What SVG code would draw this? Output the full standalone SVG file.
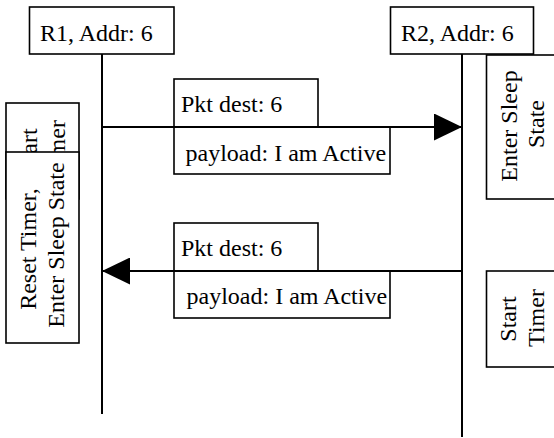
<svg xmlns="http://www.w3.org/2000/svg" width="554" height="438" viewBox="0 0 554 438">
<style>
.box{fill:#fff;stroke:#000;stroke-width:1.6}
.life{stroke:#000;stroke-width:2;fill:none}
.msg{stroke:#000;stroke-width:2;fill:none}
text{font-family:"Liberation Serif","Times New Roman",serif;font-size:24px;fill:#000}
.mid{text-anchor:middle}
</style>
<defs>
<marker id="arrow" viewBox="0 0 28 27" refX="28" refY="13.5" markerWidth="28" markerHeight="27" markerUnits="userSpaceOnUse" orient="auto">
<path d="M0,0 L28,13.5 L0,27 Z" fill="#000"/>
</marker>
</defs>
<rect width="554" height="438" fill="#fff"/>
<g id="lifelines">
<line class="life" x1="102" y1="54" x2="102" y2="414"/>
<line class="life" x1="462" y1="54" x2="462" y2="437"/>
</g>
<g id="r1">
<rect class="box" x="29.5" y="7" width="144.5" height="47"/>
<text x="40" y="40.7">R1, Addr: 6</text>
</g>
<g id="r2">
<rect class="box" x="390.5" y="7" width="143" height="47"/>
<text x="401" y="40.7">R2, Addr: 6</text>
</g>
<g id="enter-sleep-r2">
<rect class="box" x="486.5" y="55" width="73" height="144"/>
<text class="mid" transform="translate(517,126) rotate(-90)">Enter Sleep</text>
<text class="mid" transform="translate(544,124) rotate(-90)">State</text>
</g>
<g id="start-timer-r2">
<rect class="box" x="486.5" y="271" width="73" height="96"/>
<text class="mid" transform="translate(516,319) rotate(-90)">Start</text>
<text class="mid" transform="translate(544,318) rotate(-90)">Timer</text>
</g>
<g id="start-timer-r1">
<rect class="box" x="6" y="103" width="73" height="96"/>
<text class="mid" transform="translate(37,151) rotate(-90)">Start</text>
<text class="mid" transform="translate(65,149) rotate(-90)">Timer</text>
</g>
<g id="reset-r1">
<rect class="box" x="6" y="152" width="73" height="191"/>
<text class="mid" transform="translate(36,249) rotate(-90)">Reset Timer,</text>
<text class="mid" transform="translate(63.5,245) rotate(-90)">Enter Sleep State</text>
</g>
<g id="pkt1">
<rect class="box" x="174" y="79" width="144" height="48"/>
<text x="181" y="111.7">Pkt dest: 6</text>
</g>
<g id="payload1">
<rect class="box" x="174" y="127" width="216" height="47"/>
<text x="185.5" y="161">payload: I am Active</text>
</g>
<g id="pkt2">
<rect class="box" x="174" y="223" width="144" height="48"/>
<text x="181" y="255.5">Pkt dest: 6</text>
</g>
<g id="payload2">
<rect class="box" x="174" y="271" width="216" height="47"/>
<text x="186.5" y="304">payload: I am Active</text>
</g>
<g id="connectors">
<line class="msg" x1="102" y1="127" x2="462" y2="127" marker-end="url(#arrow)"/>
<line class="msg" x1="462" y1="271" x2="102" y2="271" marker-end="url(#arrow)"/>
</g>
</svg>
